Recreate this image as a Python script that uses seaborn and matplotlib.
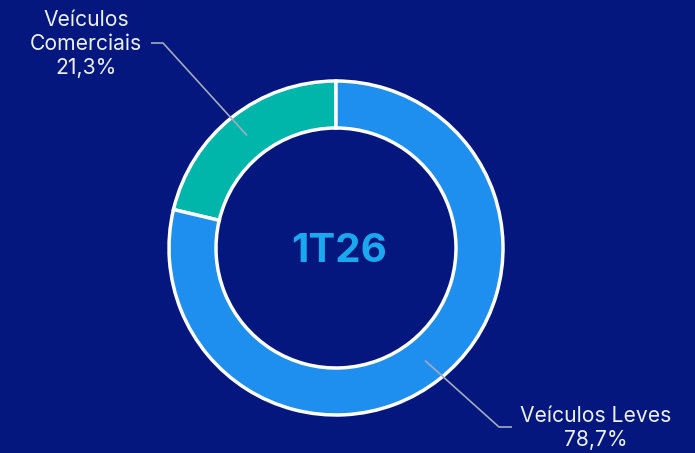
import numpy as np
import matplotlib
matplotlib.use("Agg")
import matplotlib.pyplot as plt
import seaborn as sns

# Data
categories = ["Veículos\nComerciais", "Veículos Leves"]
shares = [21.3, 78.7]
share_labels = ["21,3%", "78,7%"]
period = "1T26"

bg = "#03177E"
colors = ["#00B5AA", "#1F8FEF"]

sns.set_theme(style="white")
plt.rcParams["font.family"] = ["Inter", "DejaVu Sans"]

W, H = 695, 453
fig = plt.figure(figsize=(W / 100, H / 100), dpi=100, facecolor=bg)
ax = fig.add_axes([0, 0, 1, 1])
ax.set_facecolor(bg)

cx, cy = 336, H - 248
r_out, width = 167, 47

wedges, _ = ax.pie(
    shares, colors=colors, startangle=90, counterclock=True,
    radius=r_out, center=(cx, cy),
    wedgeprops=dict(width=width, edgecolor="white", linewidth=2.5),
    frame=True,
)
ax.set_xlim(0, W)
ax.set_ylim(0, H)
ax.set_axis_off()

# Center label
ax.text(cx + 3, H - 252, period, ha="center", va="center", color="#1AA8EE",
        fontsize=29, fontweight="bold")

# Leader lines and labels
r_mid = r_out - width / 2
elbows = [(163, H - 43), (499, H - 427)]
ends = [(151, H - 43), (512, H - 427)]
label_pos = [(86, H - 44), (596, H - 428)]
for w, elb, end, lp, cat, pl in zip(wedges, elbows, ends, label_pos,
                                    categories, share_labels):
    ang = np.deg2rad((w.theta1 + w.theta2) / 2)
    sx, sy = cx + r_mid * np.cos(ang), cy + r_mid * np.sin(ang)
    ax.plot([sx, elb[0], end[0]], [sy, elb[1], end[1]],
            color="#A3ABBD", lw=1.2, solid_capstyle="butt", zorder=5)
    ax.text(lp[0], lp[1], f"{cat}\n{pl}", ha="center", va="center",
            color="#EEF1F8", fontsize=15.2, linespacing=1.25,
            multialignment="center")

fig.savefig("out.png", dpi=100, facecolor=bg)
